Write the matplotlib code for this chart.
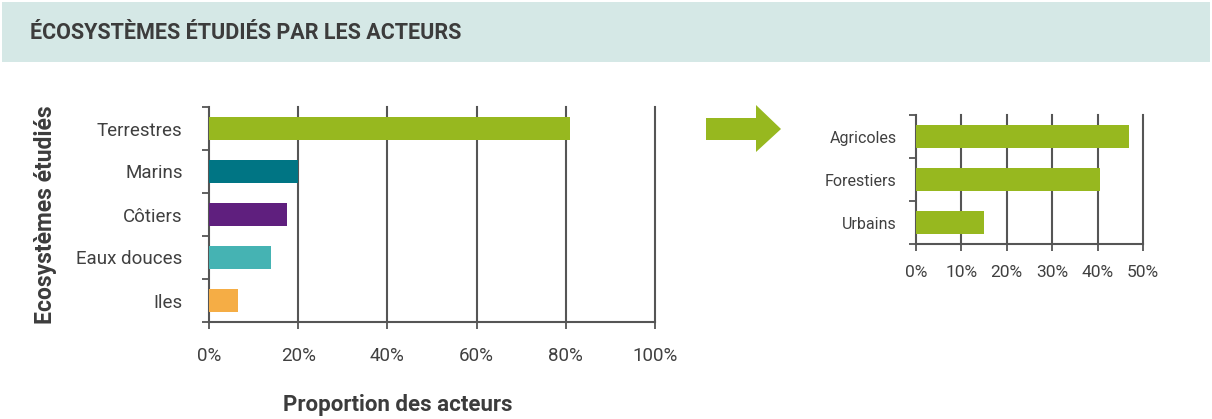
import matplotlib
matplotlib.use("Agg")
import matplotlib.pyplot as plt
from matplotlib.patches import Rectangle, Polygon
from matplotlib.ticker import FixedLocator, PercentFormatter

plt.rcParams['font.family'] = ['Roboto', 'DejaVu Sans']

title = "ÉCOSYSTÈMES ÉTUDIÉS PAR LES ACTEURS"
main_categories = ["Terrestres", "Marins", "Côtiers", "Eaux douces", "Iles"]
main_values = [81, 20, 17.5, 14, 6.5]
main_colors = ["#97b81f", "#007584", "#5f1f7e", "#45b3b3", "#f5ad45"]
sub_categories = ["Agricoles", "Forestiers", "Urbains"]
sub_values = [47, 40.5, 15]
sub_color = "#97b81f"
ylabel = "Ecosystèmes étudiés"
xlabel = "Proportion des acteurs"

fig = plt.figure(figsize=(12.12, 4.19), dpi=100)
fig.patch.set_facecolor("white")

# Title band
fig.patches.append(Rectangle((2/1212, 1 - 62/419), 1208/1212, 60/419,
                             transform=fig.transFigure, facecolor="#d5e8e6",
                             edgecolor="none", zorder=0))
fig.text(30/1212, 1 - 33/419, title, fontsize=15.5, fontweight="bold",
         color="#3c3c3c", va="center", ha="left")

grid_c = "#555555"
text_c = "#404040"

def style(ax, n, xmax, step, fs_y, fs_x, ypad, xpad):
    ax.set_ylim(n - 0.5, -0.5)
    ax.set_xlim(0, xmax)
    ticks = list(range(0, xmax + 1, step))
    ax.xaxis.set_major_locator(FixedLocator(ticks))
    ax.xaxis.set_major_formatter(PercentFormatter(decimals=0))
    ax.set_yticks(range(n))
    ax.yaxis.set_minor_locator(FixedLocator([i - 0.5 for i in range(n + 1)]))
    ax.tick_params(axis='y', which='major', length=0, pad=ypad,
                   labelsize=fs_y, labelcolor=text_c)
    ax.tick_params(axis='y', which='minor', length=5, width=1.3, color=grid_c)
    ax.tick_params(axis='x', length=5, width=1.3, color=grid_c, labelsize=fs_x,
                   labelcolor=text_c, pad=xpad)
    for t in ticks[1:]:
        ax.axvline(t, color=grid_c, linewidth=1.5, clip_on=False, zorder=1)
    for s in ["top", "right"]:
        ax.spines[s].set_visible(False)
    for s in ["left", "bottom"]:
        ax.spines[s].set_color(grid_c)
        ax.spines[s].set_linewidth(1.5)

ax1 = fig.add_axes([209/1212, 1 - 322/419, 446/1212, 215/419])
ax1.barh(range(len(main_categories)), main_values, height=0.52,
         color=main_colors, zorder=3)
ax1.set_yticklabels(main_categories)
style(ax1, len(main_categories), 100, 20, 13.5, 13.5, 19, 13)
ax1.set_ylabel(ylabel, fontsize=16.5, fontweight="bold", color="#3c3c3c")
ax1.yaxis.set_label_coords(-152/446, 0.5)
fig.text(398/1212, 1 - 405/419, xlabel, fontsize=16, fontweight="bold",
         color="#3c3c3c", ha="center", va="center")

ax2 = fig.add_axes([916/1212, 1 - 244/419, 227/1212, 129/419])
ax2.barh(range(len(sub_categories)), sub_values, height=0.52,
         color=sub_color, zorder=3)
ax2.set_yticklabels(sub_categories)
style(ax2, len(sub_categories), 50, 10, 11.5, 12.5, 14, 10)

# Arrow
pts = [(706, 118), (756, 118), (756, 105), (781, 129), (756, 152), (756, 140), (706, 140)]
fig.patches.append(Polygon([(x/1212, 1 - y/419) for x, y in pts], closed=True,
                           transform=fig.transFigure, facecolor="#97b81f",
                           edgecolor="none"))

fig.savefig("out.png", dpi=100, facecolor="white")
